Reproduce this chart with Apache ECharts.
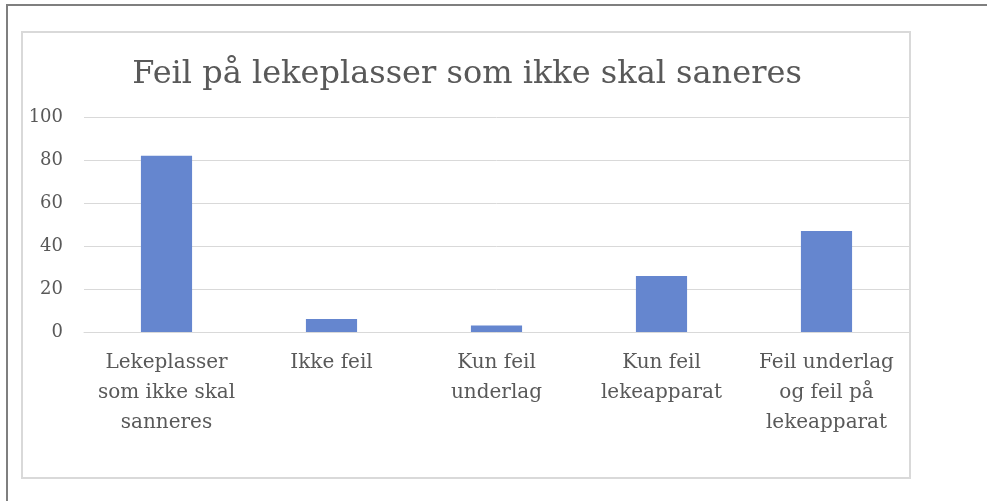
<!DOCTYPE html>
<html>
<head>
<meta charset="utf-8">
<script src="https://cdn.jsdelivr.net/npm/echarts@6/dist/echarts.min.js"></script>
<style>
html,body{margin:0;padding:0;background:#fff;width:987px;height:501px;overflow:hidden;position:relative;}
#frameTop{position:absolute;left:6px;top:4px;width:981px;height:0;border-top:2px solid #7f7f7f;}
#frameLeft{position:absolute;left:6px;top:4px;width:0;height:497px;border-left:2px solid #7f7f7f;}
#box{position:absolute;left:21px;top:31px;width:886px;height:444px;border:2px solid #d9d9d9;}
#chart{position:absolute;left:0;top:0;width:987px;height:501px;}
</style>
</head>
<body>
<div id="frameTop"></div>
<div id="frameLeft"></div>
<div id="box"></div>
<div id="chart"></div>
<script>
const categories = ["Lekeplasser\nsom ikke skal\nsanneres", "Ikke feil", "Kun feil\nunderlag", "Kun feil\nlekeapparat", "Feil underlag\nog feil på\nlekeapparat"];
const values = [82, 6, 3, 26, 47];
const yTicks = [0, 20, 40, 60, 80, 100];
const titleText = "Feil på lekeplasser som ikke skal saneres";

const font = "'DejaVu Serif', 'Liberation Serif', serif";
const chart = echarts.init(document.getElementById('chart'), null, {renderer: 'canvas'});
chart.setOption({
  animation: false,
  backgroundColor: 'transparent',
  title: {
    text: titleText,
    left: 462,
    textAlign: 'center',
    top: 54,
    textStyle: {fontFamily: font, fontSize: 32, fontWeight: 'normal', color: '#595959'}
  },
  grid: {left: 84, right: 78, top: 117, bottom: 169, containLabel: false},
  xAxis: {
    type: 'category',
    data: categories,
    axisLine: {lineStyle: {color: '#d9d9d9', width: 1}},
    axisTick: {show: false},
    axisLabel: {fontFamily: font, fontSize: 20, color: '#595959', lineHeight: 30, margin: 16, interval: 0}
  },
  yAxis: {
    type: 'value',
    min: yTicks[0],
    max: yTicks[yTicks.length - 1],
    interval: yTicks[1] - yTicks[0],
    axisLine: {show: false},
    axisTick: {show: false},
    splitLine: {lineStyle: {color: '#d9d9d9', width: 1}},
    axisLabel: {fontFamily: font, fontSize: 18, color: '#595959', margin: 21}
  },
  series: [{
    type: 'bar',
    data: values,
    barWidth: '31%',
    itemStyle: {color: '#6586cf'}
  }]
});
</script>
</body>
</html>
